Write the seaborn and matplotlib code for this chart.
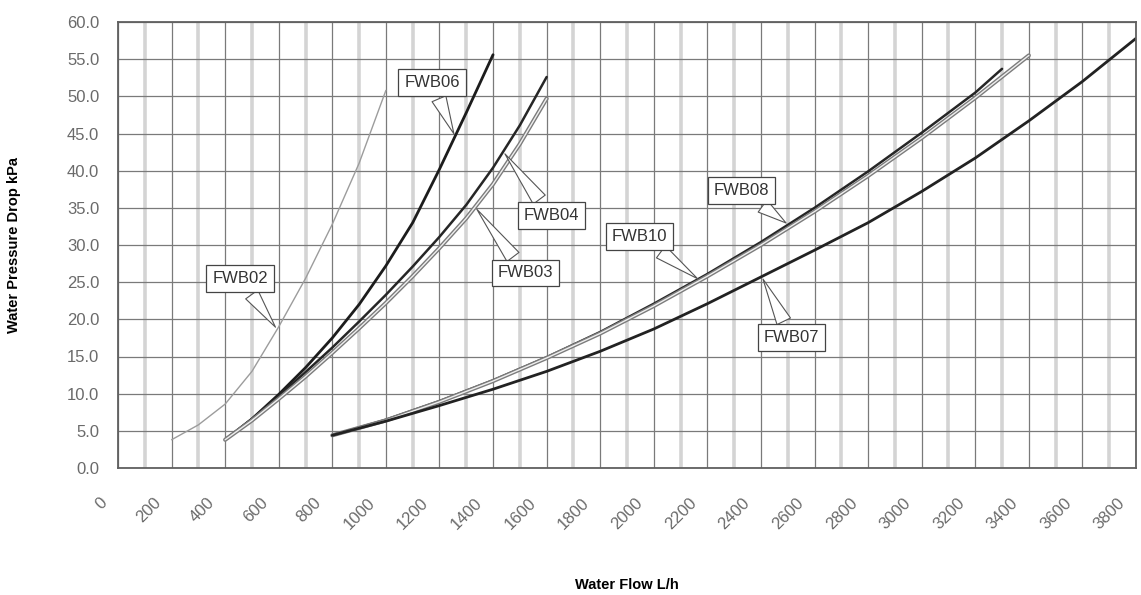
import numpy as np
import pandas as pd
import seaborn as sns
import matplotlib.pyplot as plt
import matplotlib.transforms as mtransforms
import matplotlib.patheffects as pe
from matplotlib.ticker import MultipleLocator, FormatStrFormatter

# water flow (L/h) vs pressure drop (kPa)
FWB02_flow = [200, 300, 400, 500, 600, 700, 800, 900, 1000]
FWB02_dp = [3.8, 5.8, 8.6, 13.0, 19.0, 25.5, 32.8, 41.0, 50.8]

FWB06_flow = [400, 500, 600, 700, 800, 900, 1000, 1100, 1200, 1300, 1400]
FWB06_dp = [3.8, 6.6, 9.9, 13.5, 17.5, 22.0, 27.2, 33.0, 40.2, 47.8, 55.6]

FWB04_flow = [400, 500, 600, 700, 800, 900, 1000, 1100, 1200, 1300, 1400, 1500, 1600]
FWB04_dp = [3.8, 6.6, 9.7, 12.9, 16.2, 19.7, 23.3, 27.1, 31.1, 35.4, 40.4, 46.1, 52.6]

FWB03_flow = [400, 500, 600, 700, 800, 900, 1000, 1100, 1200, 1300, 1400, 1500, 1600]
FWB03_dp = [3.8, 6.4, 9.3, 12.3, 15.5, 18.8, 22.2, 25.8, 29.6, 33.6, 38.2, 43.6, 49.7]

FWB08_flow = [800, 1000, 1200, 1400, 1600, 1800, 2000, 2200, 2400, 2600, 2800, 3000, 3200, 3300]
FWB08_dp = [4.4, 6.5, 9.0, 11.8, 14.9, 18.3, 22.1, 26.1, 30.4, 35.0, 39.9, 45.1, 50.5, 53.7]

FWB10_flow = [800, 1000, 1200, 1400, 1600, 1800, 2000, 2200, 2400, 2600, 2800, 3000, 3200, 3400]
FWB10_dp = [4.4, 6.4, 8.9, 11.7, 14.8, 18.1, 21.8, 25.8, 30.0, 34.5, 39.3, 44.4, 49.8, 55.5]

FWB07_flow = [800, 1000, 1200, 1400, 1600, 1800, 2000, 2200, 2400, 2600, 2800, 3000, 3200, 3400, 3600, 3800]
FWB07_dp = [4.4, 6.3, 8.4, 10.6, 13.0, 15.7, 18.7, 22.1, 25.7, 29.3, 33.0, 37.2, 41.7, 46.7, 52.0, 57.8]

x_ticks = list(range(0, 3801, 200))
y_ticks = list(range(0, 61, 5))

series = {
    "FWB02": (FWB02_flow, FWB02_dp),
    "FWB06": (FWB06_flow, FWB06_dp),
    "FWB04": (FWB04_flow, FWB04_dp),
    "FWB03": (FWB03_flow, FWB03_dp),
    "FWB08": (FWB08_flow, FWB08_dp),
    "FWB10": (FWB10_flow, FWB10_dp),
    "FWB07": (FWB07_flow, FWB07_dp),
}

df = pd.concat([pd.DataFrame({"flow": f, "dp": d, "model": name})
                for name, (f, d) in series.items()], ignore_index=True)

palette = {"FWB02": "#9c9c9c", "FWB06": "#1c1c1c", "FWB04": "#262626",
           "FWB03": "#efefef", "FWB08": "#262626", "FWB10": "#efefef",
           "FWB07": "#222222"}
sizes = {"FWB02": 1.0, "FWB06": 2.0, "FWB04": 1.8, "FWB03": 1.0,
         "FWB08": 1.8, "FWB10": 1.0, "FWB07": 2.0}
hollow = ["FWB03", "FWB10"]

sns.set_theme(style="white")
plt.rcParams['font.family'] = ['Liberation Sans', 'DejaVu Sans']

fig = plt.figure(figsize=(11.41, 5.95), dpi=100)
ax = fig.add_axes([118 / 1141, 1 - 468 / 595, 1018 / 1141, 446 / 595])

sns.lineplot(data=df, x="flow", y="dp", hue="model", size="model",
             palette=palette, sizes=sizes, estimator=None, legend=False, ax=ax)
# the light curves are drawn as an outlined (double) line
for name, line in zip(series.keys(), ax.lines):
    if name in hollow:
        line.set_path_effects([pe.Stroke(linewidth=3.0, foreground="#7c7c7c"), pe.Normal()])

ax.set_xlim(0, 3800)
ax.set_ylim(0, 60)
ax.set_xticks(x_ticks)
ax.set_yticks(y_ticks)
ax.xaxis.set_minor_locator(MultipleLocator(100))
ax.yaxis.set_major_formatter(FormatStrFormatter("%.1f"))
ax.set_axisbelow(True)
ax.grid(which="major", axis="both", color="#7a7a7a", lw=0.9)
ax.grid(which="minor", axis="x", color="#d4d4d4", lw=2.6)
for sp in ax.spines.values():
    sp.set_color("#606060")
    sp.set_linewidth(1.3)

ax.tick_params(axis="both", which="both", length=0, labelsize=12, labelcolor="#6a6a6a")
ax.tick_params(axis="y", pad=13.5)
ax.tick_params(axis="x", pad=19.5)
shift = mtransforms.ScaledTranslation(-8 / 100, 0, fig.dpi_scale_trans)
for lbl in ax.get_xticklabels():
    lbl.set_rotation(45)
    lbl.set_ha("right")
    lbl.set_va("top")
    lbl.set_transform(lbl.get_transform() + shift)

ax.set_xlabel("Water Flow L/h", fontsize=10.5, fontweight="bold", color="black")
ax.set_ylabel("Water Pressure Drop kPa", fontsize=10.5, fontweight="bold", color="black")
ax.xaxis.set_label_coords(0.5, -0.247)
ax.yaxis.set_label_coords(-0.095, 0.5)

# callout labels: (model, flow at the tip, box offset in pixels)
callouts = [("FWB02", 594, -37, 51), ("FWB06", 1258, -23, 54),
            ("FWB04", 1438, 48, -64), ("FWB03", 1333, 50, -66),
            ("FWB10", 2172, -60, 44), ("FWB08", 2502, -47, 34),
            ("FWB07", 2403, 30, -61)]
for name, xt, dx, dy in callouts:
    f, d = series[name]
    yt = np.interp(xt, f, d)
    ax.annotate(name, xy=(xt, yt), xytext=(dx, dy), textcoords="offset pixels",
                ha="center", va="center", fontsize=12, color="#333333",
                bbox=dict(boxstyle="square,pad=0.35", fc="white", ec="#444444", lw=0.9),
                arrowprops=dict(arrowstyle="wedge,tail_width=0.9,shrink_factor=0.5",
                                fc="white", ec="#555555", lw=0.8))

fig.savefig("out.png", dpi=100)
